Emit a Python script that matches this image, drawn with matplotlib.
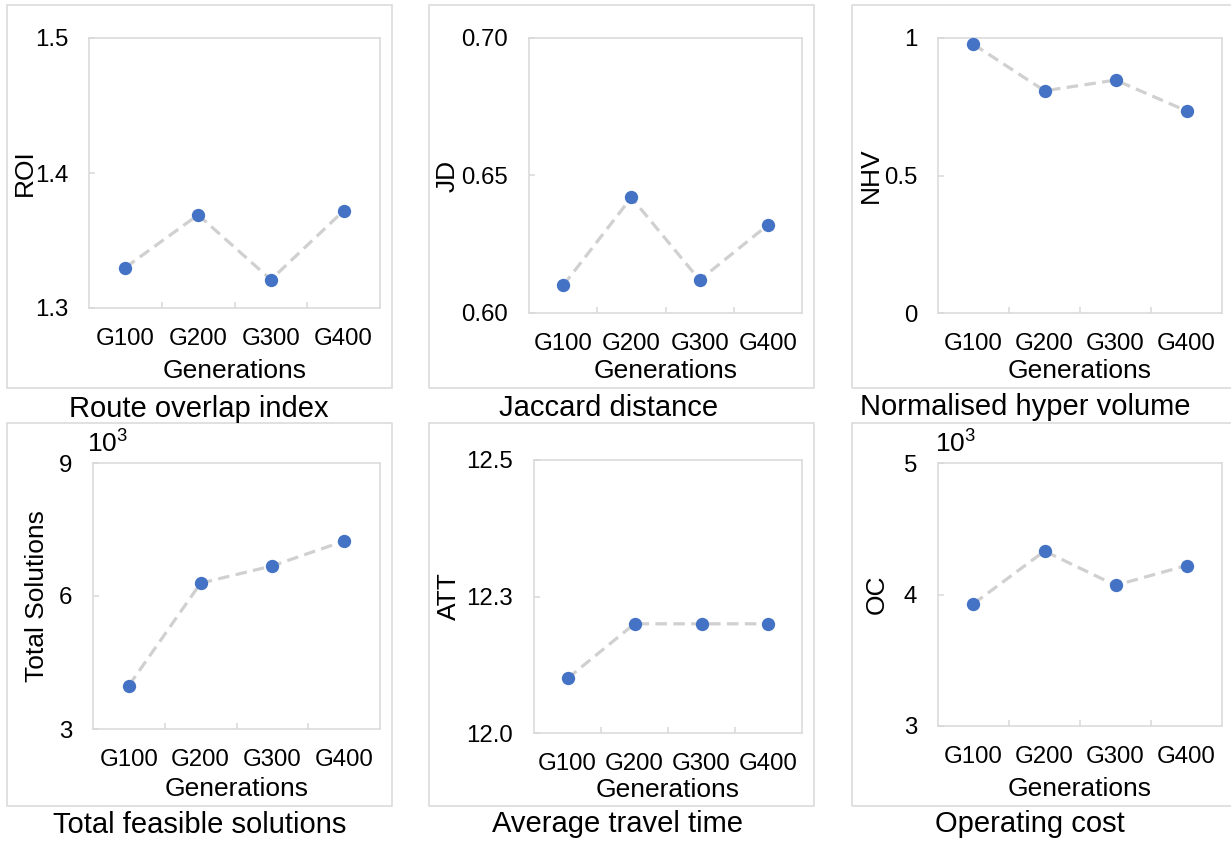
import matplotlib
matplotlib.use("Agg")
import matplotlib.pyplot as plt
from matplotlib.patches import Rectangle

plt.rcParams["font.family"] = ["Liberation Sans", "DejaVu Sans"]
plt.rcParams["mathtext.fontset"] = "custom"
plt.rcParams["mathtext.rm"] = "Liberation Sans"
plt.rcParams["mathtext.it"] = "Liberation Sans"
plt.rcParams["mathtext.bf"] = "Liberation Sans:bold"

# ---- data ---------------------------------------------------------------
generations = ["G100", "G200", "G300", "G400"]

roi = [1.330, 1.369, 1.321, 1.372]
jd = [0.610, 0.642, 0.612, 0.632]
nhv = [0.977, 0.808, 0.847, 0.735]
total_solutions_k = [3.98, 6.29, 6.68, 7.24]   # in thousands
att = [12.10, 12.20, 12.20, 12.20]
oc_k = [3.93, 4.33, 4.07, 4.22]                # in thousands

roi_ticks, roi_labels = [1.3, 1.4, 1.5], ["1.3", "1.4", "1.5"]
jd_ticks, jd_labels = [0.60, 0.65, 0.70], ["0.60", "0.65", "0.70"]
nhv_ticks, nhv_labels = [0.0, 0.5, 1.0], ["0", "0.5", "1"]
ts_ticks, ts_labels = [3, 6, 9], ["3", "6", "9"]
att_ticks, att_labels = [12.0, 12.25, 12.5], ["12.0", "12.3", "12.5"]
oc_ticks, oc_labels = [3, 4, 5], ["3", "4", "5"]

# ---- layout (pixel units, origin top-left) ------------------------------
W, H, DPI = 1231, 841, 100
GRID = "#D9D9D9"
LINE = "#D0D0D0"
BLUE = "#4472C4"

panels = [
    dict(vals=roi, ticks=roi_ticks, labels=roi_labels, ylabel="ROI",
         caption="Route overlap index", ax=(89, 38, 380, 308), box=(7, 5, 392, 388),
         ylab_x=25, xlab_base=378, cap_x=199, cap_base=417, mult=None),
    dict(vals=jd, ticks=jd_ticks, labels=jd_labels, ylabel="JD",
         caption="Jaccard distance", ax=(529, 38, 802, 313), box=(429, 5, 814, 388),
         ylab_x=448, xlab_base=378, cap_x=609, cap_base=416, mult=None),
    dict(vals=nhv, ticks=nhv_ticks, labels=nhv_labels, ylabel="NHV",
         caption="Normalised hyper volume", ax=(938, 38, 1222, 313), box=(852, 5, 1240, 388),
         ylab_x=871, xlab_base=378, cap_x=1025, cap_base=415, mult=None),
    dict(vals=total_solutions_k, ticks=ts_ticks, labels=ts_labels, ylabel="Total Solutions",
         caption="Total feasible solutions", ax=(93, 463, 380, 729), box=(7, 423, 392, 806),
         ylab_x=37, xlab_base=796, cap_x=200, cap_base=833, mult=(87, 453)),
    dict(vals=att, ticks=att_ticks, labels=att_labels, ylabel="ATT",
         caption="Average travel time", ax=(534, 460, 802, 733), box=(429, 423, 814, 806),
         ylab_x=449, xlab_base=797, cap_x=617, cap_base=832, mult=None),
    dict(vals=oc_k, ticks=oc_ticks, labels=oc_labels, ylabel="OC",
         caption="Operating cost", ax=(938, 463, 1222, 726), box=(852, 423, 1240, 806),
         ylab_x=877, xlab_base=796, cap_x=1030, cap_base=832, mult=(935, 453)),
]

TICK_FS = 17.3
LABEL_FS = 19
CAP_FS = 21


def fx(px):
    return px / W


def fy(py):
    return 1 - py / H


fig = plt.figure(figsize=(W / DPI, H / DPI), dpi=DPI)
fig.patch.set_facecolor("white")

xpos = list(range(len(generations)))

for p in panels:
    x0, y0, x1, y1 = p["ax"]
    aw, ah = x1 - x0, y1 - y0
    ax = fig.add_axes([fx(x0), fy(y1), aw / W, ah / H])

    # outer frame around each panel
    bx0, by0, bx1, by1 = p["box"]
    fig.add_artist(Rectangle((fx(bx0), fy(by1)), (bx1 - bx0) / W, (by1 - by0) / H,
                             transform=fig.transFigure, fill=False,
                             edgecolor=GRID, linewidth=1.1, zorder=0))

    ax.plot(xpos, p["vals"], linestyle=(0, (3.6, 2.0)), color=LINE,
            linewidth=2.3, zorder=2)
    ax.plot(xpos, p["vals"], linestyle="none", marker="o", markersize=9.6,
            color=BLUE, markeredgewidth=0, zorder=3, clip_on=False)

    ax.set_xlim(-0.5, len(generations) - 0.5)
    ax.set_ylim(p["ticks"][0], p["ticks"][-1])

    ax.set_xticks(xpos)
    ax.set_xticklabels(generations)
    ax.set_xticks([i + 0.5 for i in xpos[:-1]], minor=True)
    ax.set_yticks(p["ticks"])
    ax.set_yticklabels(p["labels"])

    ax.tick_params(axis="x", which="major", length=0, pad=14.5, labelsize=TICK_FS)
    ax.tick_params(axis="x", which="minor", length=4, width=1.1, color=GRID,
                   direction="in")
    ax.tick_params(axis="y", which="major", length=4, width=1.1, color=GRID,
                   direction="in", pad=15, labelsize=TICK_FS)

    for s in ax.spines.values():
        s.set_color(GRID)
        s.set_linewidth(1.1)

    # x-axis title
    ax.set_xlabel("Generations", fontsize=LABEL_FS)
    ax.xaxis.set_label_coords(0.5, (y1 - p["xlab_base"]) / ah)
    ax.xaxis.label.set_verticalalignment("baseline")

    # y-axis title
    ax.set_ylabel(p["ylabel"], fontsize=LABEL_FS, va="center")
    ax.yaxis.set_label_coords((p["ylab_x"] - x0) / aw, 0.5)

    # panel caption below the frame
    fig.text(fx(p["cap_x"]), fy(p["cap_base"]), p["caption"], ha="center",
             va="baseline", fontsize=CAP_FS)

    if p["mult"] is not None:
        mx, my = p["mult"]
        fig.text(fx(mx), fy(my), r"10$^{3}$", ha="left", va="baseline",
                 fontsize=LABEL_FS)

fig.savefig("out.png", dpi=DPI, facecolor="white")
